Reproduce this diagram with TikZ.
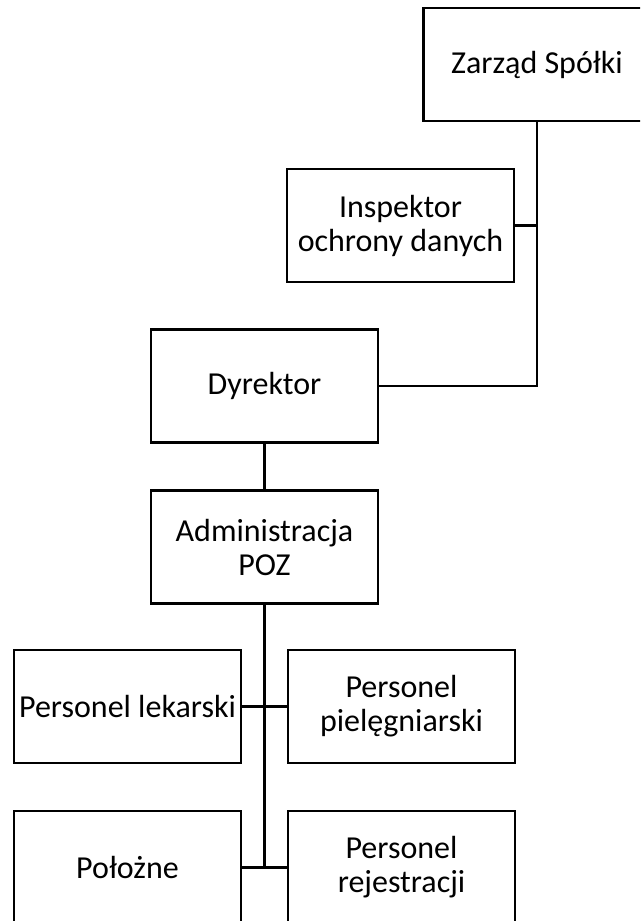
\documentclass[tikz,border=0pt]{standalone}
\usepackage{fontspec}
\setmainfont{Carlito}
\begin{document}
\begin{tikzpicture}[x=0.75pt,y=-0.75pt,
  orgbox/.style={draw=black,line width=1.6pt,rectangle,minimum width=170.25pt,minimum height=84.75pt,inner sep=0pt,align=center,font=\fontsize{24}{25.5}\selectfont},
  link/.style={draw=black,line width=1.6pt}]
\clip (0,0) rectangle (640,921);
\fill[white] (0,0) rectangle (640,921);
\node[orgbox] (zarzad) at (537,64.5) {Zarząd Spółki};
\node[orgbox] (insp) at (400.5,225.5) {Inspektor\\ochrony danych};
\node[orgbox] (dyr) at (264.5,386) {Dyrektor};
\node[orgbox] (adm) at (264.5,547) {Administracja\\POZ};
\node[orgbox] (lek) at (127.5,706.5) {Personel lekarski};
\node[orgbox] (piel) at (401.5,706.5) {Personel\\pielęgniarski};
\node[orgbox] (poloz) at (127.5,867.5) {Położne};
\node[orgbox] (rej) at (401.5,867.5) {Personel\\rejestracji};
\coordinate (trunkend) at (adm.south |- poloz.east);
\draw[link] (zarzad.south) |- (dyr.east);
\draw[link] (insp.east) -- (insp.east -| zarzad.south);
\draw[link] (dyr.south) -- (adm.north);
\draw[link] (adm.south) -- (trunkend);
\draw[link] (lek.east) -- (piel.west);
\draw[link] (poloz.east) -- (rej.west);
\end{tikzpicture}
\end{document}
